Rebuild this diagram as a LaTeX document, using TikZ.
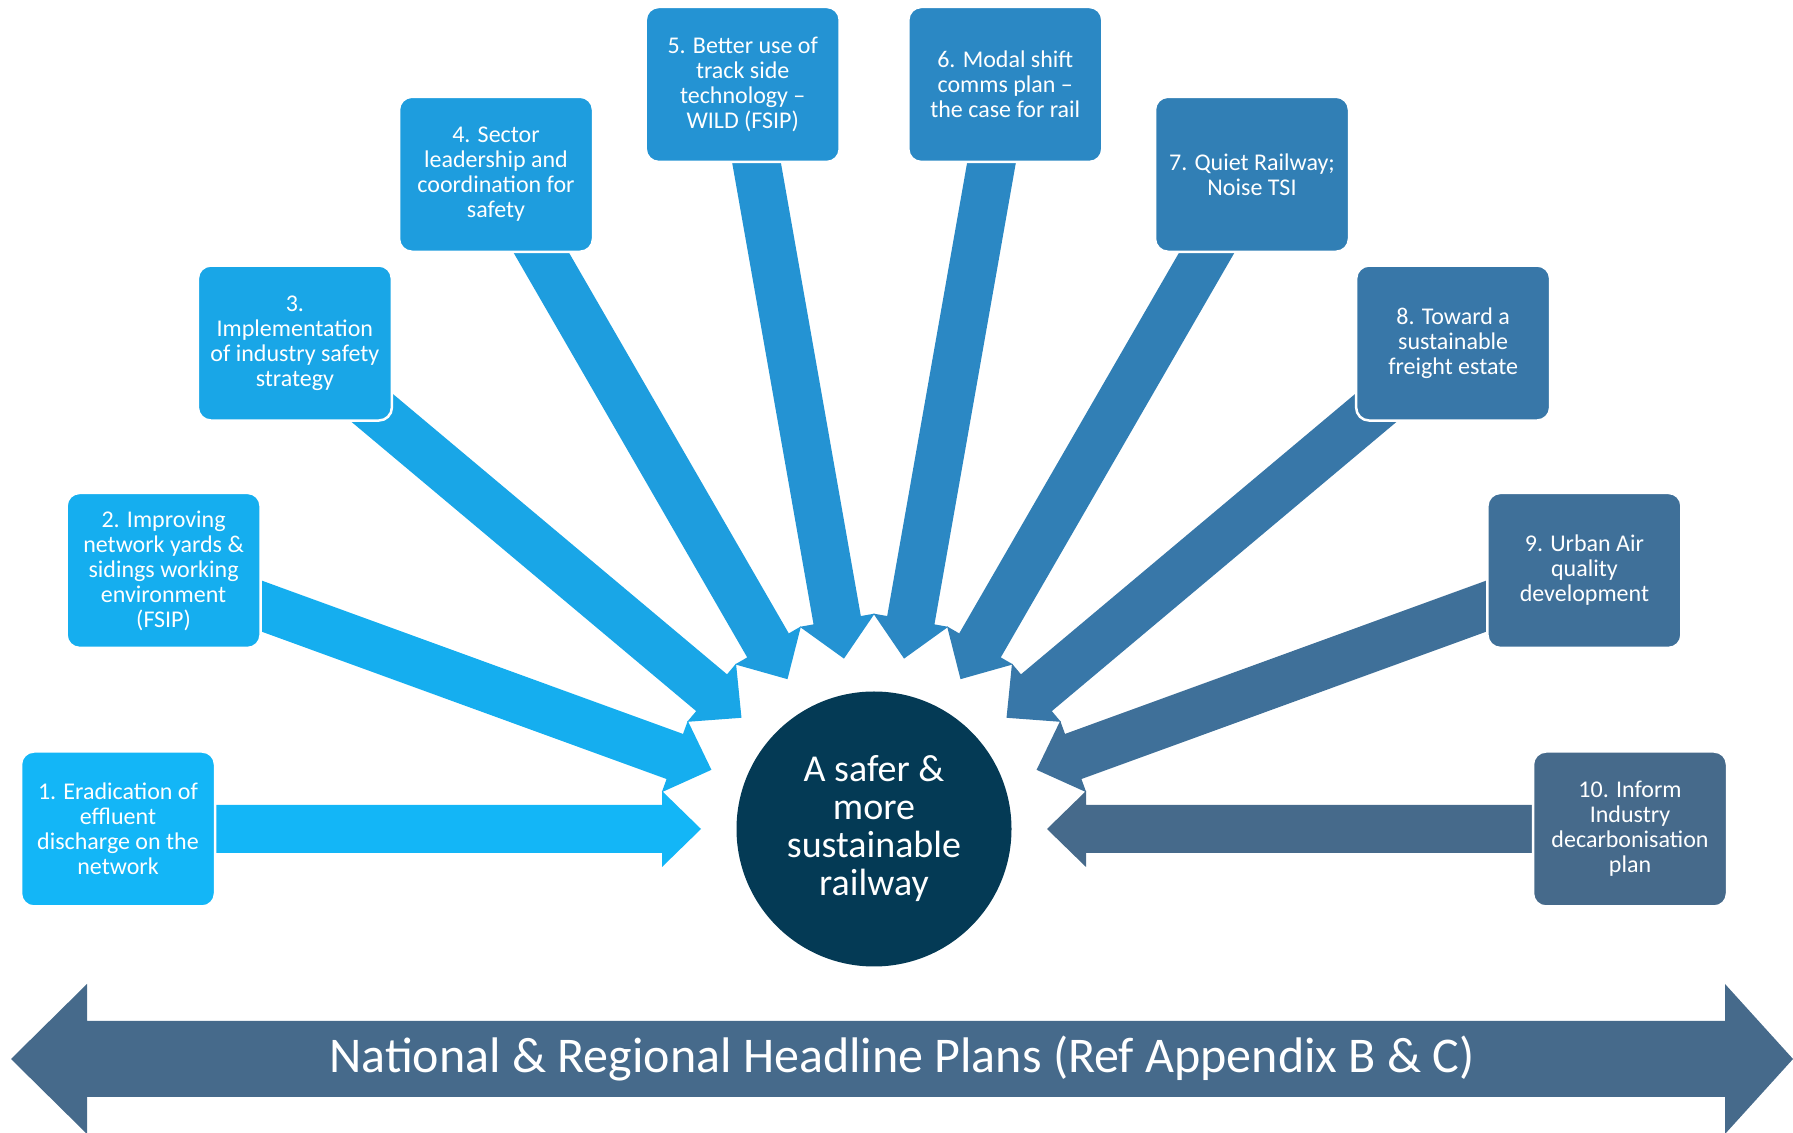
\documentclass[tikz,border=0pt]{standalone}
\usepackage{fontspec}
\setmainfont{Carlito}
\usetikzlibrary{calc,backgrounds}
\definecolor{tone1}{HTML}{13B6F7}
\definecolor{tone2}{HTML}{15AEEF}
\definecolor{tone3}{HTML}{19A6E7}
\definecolor{tone4}{HTML}{1E9DDE}
\definecolor{tone5}{HTML}{2493D3}
\definecolor{tone6}{HTML}{2B88C4}
\definecolor{tone7}{HTML}{317FB5}
\definecolor{tone8}{HTML}{3877A8}
\definecolor{tone9}{HTML}{3F7099}
\definecolor{tone10}{HTML}{466A8B}
\definecolor{hubnavy}{HTML}{043A55}
\tikzset{
  plan/.style={draw=white, line width=2.5pt, rounded corners=13pt, text=white, align=center, inner sep=2pt, minimum width=194pt, minimum height=155pt, font=\fontsize{24}{25}\selectfont},
  hub/.style={circle, fill=hubnavy, minimum size=275pt, inner sep=0pt, text=white, align=center, font=\fontsize{38}{38}\selectfont},
  banner/.style={text=white, font=\fontsize{50}{50}\selectfont}
}
% block arrow: colour, start point, tip
\newcommand{\spoke}[3]{%
  \coordinate (h) at ($(#3)!39pt!(#2)$);
  \fill[#1] ($(#2)!24pt!90:(#3)$) -- ($(h)!24pt!90:(#3)$) -- ($(h)!38pt!90:(#3)$) -- (#3)
    -- ($(h)!38pt!-90:(#3)$) -- ($(h)!24pt!-90:(#3)$) -- ($(#2)!24pt!-90:(#3)$) -- cycle;
}

\begin{document}
\begin{tikzpicture}[x=1pt, y=1pt]
\useasboundingbox (0,0) rectangle (1793,1132);
\node[hub] (hub) at (874,303) {A safer \&\\more\\sustainable\\railway};
\node[plan, fill=tone1] (p1) at ($(hub)+(180:756)$) {1. Eradication of\\effluent\\discharge on the\\network};
\node[plan, fill=tone2] (p2) at ($(hub)+(160:756)$) {2. Improving\\network yards \&\\sidings working\\environment\\(FSIP)};
\node[plan, fill=tone3] (p3) at ($(hub)+(140:756)$) {3.\\Implementation\\of industry safety\\strategy};
\node[plan, fill=tone4] (p4) at ($(hub)+(120:756)$) {4. Sector\\leadership and\\coordination for\\safety};
\node[plan, fill=tone5] (p5) at ($(hub)+(100:756)$) {5. Better use of\\track side\\technology --\\WILD (FSIP)};
\node[plan, fill=tone6] (p6) at ($(hub)+(80:756)$) {6. Modal shift\\comms plan --\\the case for rail};
\node[plan, fill=tone7] (p7) at ($(hub)+(60:756)$) {7. Quiet Railway;\\Noise TSI};
\node[plan, fill=tone8] (p8) at ($(hub)+(40:756)$) {8. Toward a\\sustainable\\freight estate};
\node[plan, fill=tone9] (p9) at ($(hub)+(20:756)$) {9. Urban Air\\quality\\development};
\node[plan, fill=tone10] (p10) at ($(hub)+(0:756)$) {10. Inform\\Industry\\decarbonisation\\plan};

% arrow tips around the hub
\coordinate (t1) at ($(hub)+(180:173)$);
\coordinate (t2) at ($(hub)+(160:173)$);
\coordinate (t3) at ($(hub)+(140:173)$);
\coordinate (t4) at ($(hub)+(120:173)$);
\coordinate (t5) at ($(hub)+(100:173)$);
\coordinate (t6) at ($(hub)+(80:173)$);
\coordinate (t7) at ($(hub)+(60:173)$);
\coordinate (t8) at ($(hub)+(40:173)$);
\coordinate (t9) at ($(hub)+(20:173)$);
\coordinate (t10) at ($(hub)+(0:173)$);

\begin{scope}[on background layer]
\spoke{tone1}{p1.center}{t1}
\spoke{tone2}{p2.center}{t2}
\spoke{tone3}{p3.center}{t3}
\spoke{tone4}{p4.center}{t4}
\spoke{tone5}{p5.center}{t5}
\spoke{tone6}{p6.center}{t6}
\spoke{tone7}{p7.center}{t7}
\spoke{tone8}{p8.center}{t8}
\spoke{tone9}{p9.center}{t9}
\spoke{tone10}{p10.center}{t10}
\end{scope}

% headline plans double arrow
\coordinate (west) at (11,73);
\coordinate (east) at (1793,73);
\fill[tone10] (west) -- ++(76,75) -- ++(0,-37) -- ($(east)+(-68,38)$) -- ++(0,37) -- (east)
  -- ++(-68,-75) -- ++(0,37) -- ($(west)+(76,-38)$) -- ++(0,-37) -- cycle;
\node[banner] (headline) at ($(west)!0.5!(east)$) {National \& Regional Headline Plans (Ref Appendix B \& C)};
\end{tikzpicture}
\end{document}
